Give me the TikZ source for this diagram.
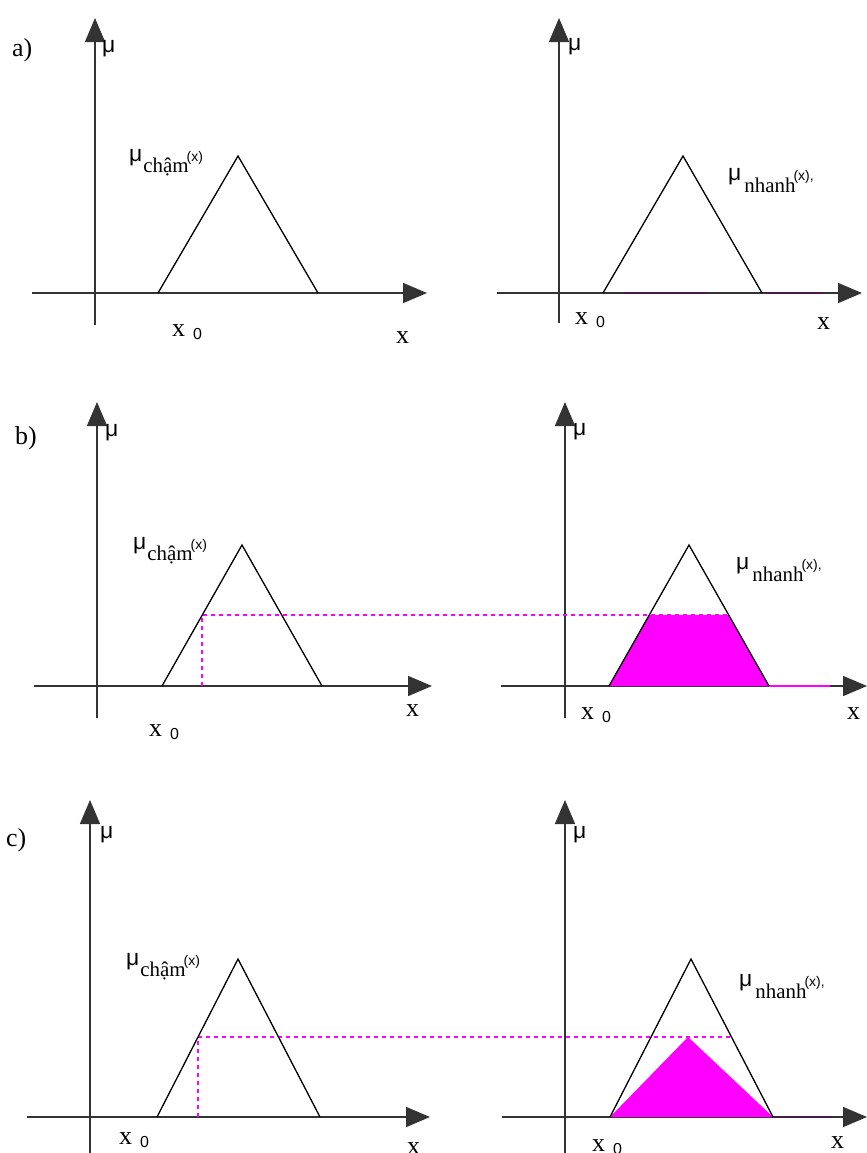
\documentclass[tikz,border=0pt]{standalone}
\usepackage{fontspec}
\setmainfont{Liberation Serif}\setsansfont{Liberation Sans}
\usetikzlibrary{arrows.meta}
\definecolor{tim}{HTML}{FF00FF}\definecolor{timdam}{HTML}{4A1A4A}
\newcommand{\mucham}{μ\hspace{1bp}\raisebox{-11bp}{\rmfamily\fontsize{21}{21}\selectfont chậm}\hspace{-2bp}{\fontsize{14}{14}\selectfont(x)}}
\newcommand{\munhanh}{μ\hspace{3bp}\raisebox{-12bp}{\rmfamily\fontsize{21}{21}\selectfont nhanh}\hspace{-2bp}{\fontsize{14}{14}\selectfont(x),}}
\newcommand{\xkhong}{x\hspace{8bp}\raisebox{-3bp}{\sffamily\fontsize{16}{16}\selectfont 0}}
\begin{document}
\begin{tikzpicture}[x=1bp,y=-1bp,
 truc/.style={line width=1.5bp,black!80,-{Triangle[length=24bp,width=20bp]}},
 tamgiac/.style={line width=1.3bp,black},
 gach/.style={tim,line width=1.5bp,dash pattern=on 4bp off 4bp},
 nhan/.style={inner sep=0pt,anchor=base west},
 chu/.style={nhan,font=\fontsize{26}{26}\selectfont},
 mu/.style={nhan,font=\sffamily\fontsize{23}{23}\selectfont}]
\useasboundingbox (0,0) rectangle (867,1153);\fill[white](0,0) rectangle (867,1153);
\node[chu] (nhana) at (12,56) {a)};
\draw[truc](95,325)--(95,18);\draw[truc](32,293)--(427,293);
\draw[tamgiac](158,293)--(238,156)--(318,293);
\node[mu] (mua1) at (102,52) {μ};\node[mu] (cham1) at (129,161) {\mucham};
\node[chu] (x01) at (172,336) {\xkhong};\node[chu] (xa1) at (396,343) {x};
\draw[truc](559,323)--(559,18);\draw[truc](497,293)--(862,293);
\draw[timdam,line width=2bp](623,293)--(707,293) (765,293)--(823,293);
\draw[tamgiac](603,293)--(683,156)--(762,293);
\node[mu] (mua2) at (568,50) {μ};\node[mu] (nhanh1) at (728,180) {\munhanh};
\node[chu] (x02) at (575,324) {\xkhong};\node[chu] (xa2) at (817,329) {x};
\node[chu] (nhanb) at (15,444) {b)};
\draw[truc](97,718)--(97,402);\draw[truc](34,686)--(432,686);
\draw[truc](565,718)--(565,402);\draw[truc](501,686)--(867,686);
\fill[tim](609,686)--(649,615)--(729,615)--(769,686)--cycle;\draw[tim,line width=2bp](769,686)--(830,686);
\draw[gach](202,686)--(202,615)--(728,615);
\draw[tamgiac](162,686)--(242,545)--(322,686);\draw[tamgiac](609,686)--(689,545)--(769,686);
\node[mu] (mub1) at (105,436) {μ};\node[mu] (cham2) at (133,549) {\mucham};
\node[chu] (x03) at (149,736) {\xkhong};\node[chu] (xb1) at (406,716) {x};
\node[mu] (mub2) at (573,435) {μ};\node[mu] (nhanh2) at (736,569) {\munhanh};
\node[chu] (x04) at (581,719) {\xkhong};\node[chu] (xb2) at (847,719) {x};
\node[chu] (nhanc) at (6,846) {c)};
\draw[truc](90,1153)--(90,800);\draw[truc](27,1117)--(430,1117);
\draw[truc](565,1153)--(565,800);\draw[truc](502,1117)--(867,1117);
\fill[tim](610,1117)--(688,1037)--(773,1117)--cycle;\draw[timdam,line width=2bp](773,1117)--(833,1117);
\draw[gach](198,1117)--(198,1037)--(732,1037);
\draw[tamgiac](157,1117)--(238,959)--(320,1117);\draw[tamgiac](610,1117)--(691,959)--(773,1117);
\node[mu] (muc1) at (100,838) {μ};\node[mu] (cham3) at (126,965) {\mucham};
\node[chu] (x05) at (119,1144) {\xkhong};\node[chu] (xc1) at (407,1154) {x};
\node[mu] (muc2) at (573,838) {μ};\node[mu] (nhanh3) at (739,986) {\munhanh};
\node[chu] (x06) at (592,1151) {\xkhong};\node[chu] (xc2) at (831,1148) {x};
\end{tikzpicture}
\end{document}
